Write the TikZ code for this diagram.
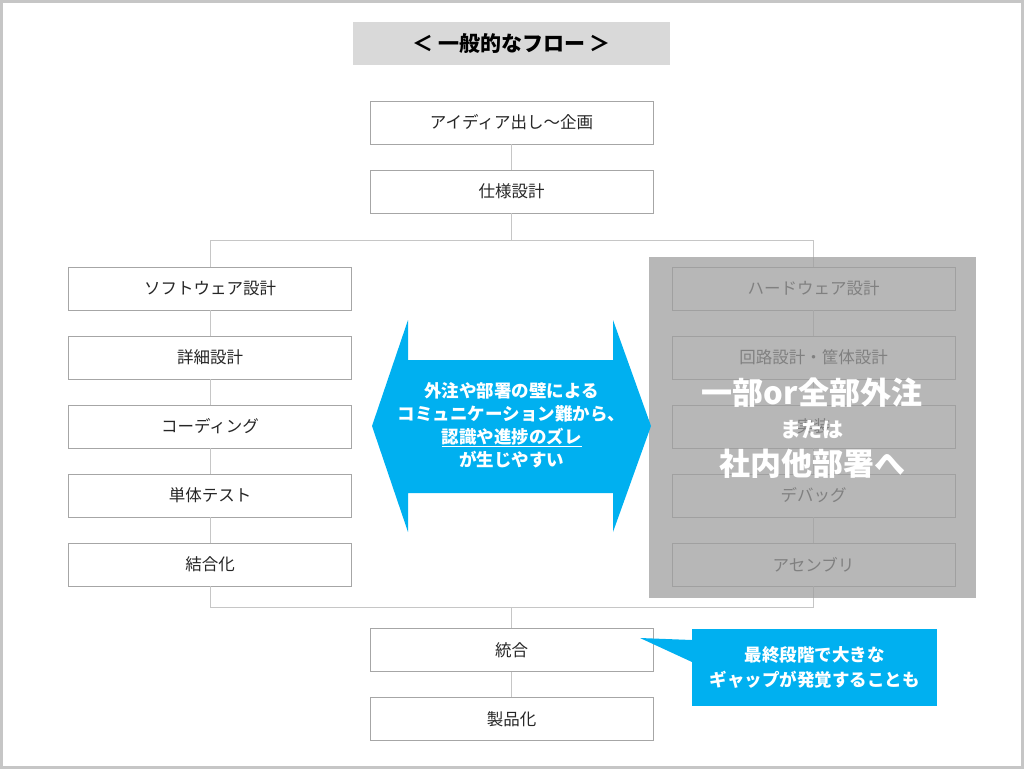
\documentclass[tikz,border=0pt]{standalone}
\usepackage{fontspec}
\setmainfont{Noto Sans CJK JP}
\usetikzlibrary{positioning}
\definecolor{flowcyan}{HTML}{00B0F0}
\tikzset{
  stepbox/.style={draw=gray!70, line width=0.8pt, fill=white, minimum width=283pt, minimum height=43pt, inner sep=0pt, font=\fontsize{16.5}{20}\selectfont, text=black!85},
  flowline/.style={draw=gray!45, line width=0.8pt},
  covertext/.style={text=white, font=\bfseries, inner sep=0pt}
}
\begin{document}
\begin{tikzpicture}[x=1pt,y=-1pt]

% Rahmen
\useasboundingbox (0,0) rectangle (1024,769);
\draw[gray!45, line width=3pt] (1.5,1.5) rectangle (1022.5,767.5);

% Titel
\node[fill=gray!30, minimum width=317pt, minimum height=43pt, font=\bfseries\fontsize{21}{24}\selectfont] (title) at (511.5,43.5) {＜ 一般的なフロー ＞};

% Mitte oben
\node[stepbox] (idea) at (511.5,122.5) {アイディア出し～企画};
\node[stepbox] (spec) at (511.5,191.5) {仕様設計};

% Software
\node[stepbox] (sw1) at (210,288.5) {ソフトウェア設計};
\node[stepbox] (sw2) at (210,357.5) {詳細設計};
\node[stepbox] (sw3) at (210,426.5) {コーディング};
\node[stepbox] (sw4) at (210,495.5) {単体テスト};
\node[stepbox] (sw5) at (210,564.5) {結合化};

% Hardware
\node[stepbox] (hw1) at (813.5,288.5) {ハードウェア設計};
\node[stepbox] (hw2) at (813.5,357.5) {回路設計・筐体設計};
\node[stepbox] (hw3) at (813.5,426.5) {実装};
\node[stepbox] (hw4) at (813.5,495.5) {デバッグ};
\node[stepbox] (hw5) at (813.5,564.5) {アセンブリ};

% Mitte unten
\node[stepbox] (integ) at (511.5,650) {統合};
\node[stepbox] (prod) at (511.5,719) {製品化};

\coordinate (split) at (511.5,240);
\coordinate (join) at (511.5,607);

% Verbindungen
\draw[flowline] (idea) -- (spec);
\draw[flowline] (spec) -- (split);
\draw[flowline] (sw1.north |- split) -- (hw1.north |- split);
\draw[flowline] (sw1.north |- split) -- (sw1);
\draw[flowline] (hw1.north |- split) -- (hw1);
\foreach \a/\b in {sw1/sw2,sw2/sw3,sw3/sw4,sw4/sw5,hw1/hw2,hw2/hw3,hw3/hw4,hw4/hw5}
  \draw[flowline] (\a) -- (\b);
\draw[flowline] (sw5) -- (sw5.south |- join) -- (hw5.south |- join) -- (hw5);
\draw[flowline] (join) -- (integ);
\draw[flowline] (integ) -- (prod);

% Abdeckung
\node[fill=gray!75, fill opacity=0.75, minimum width=327pt, minimum height=341pt, inner sep=0pt] (cover) at (812,427.5) {};
\node[covertext, font=\bfseries\fontsize{31}{36}\selectfont] (cover1) at (812,393) {一部or全部外注};
\node[covertext, font=\bfseries\fontsize{21}{24}\selectfont] (cover2) at (812,430) {または};
\node[covertext, font=\bfseries\fontsize{31}{36}\selectfont] (cover3) at (812,464) {社内他部署へ};

% Doppelpfeil
\fill[flowcyan] (372,426) -- (408,320) -- (408,360) -- (613,360) -- (613,320) -- (651,426)
  -- (613,532) -- (613,493) -- (408,493) -- (408,532) -- cycle;
\node[text=white, font=\bfseries\fontsize{17.5}{23}\selectfont, align=center] (gap) at (511.5,425)
  {外注や部署の壁による\\コミュニケーション難から、\\\underline{認識や進捗のズレ}\\が生じやすい};

% Sprechblase
\fill[flowcyan] (692,629) rectangle (937,706);
\fill[flowcyan] (692,640) -- (640,638) -- (692,662) -- cycle;
\node[text=white, font=\bfseries\fontsize{17.5}{25}\selectfont, align=center] (late) at (814.5,667.5)
  {最終段階で大きな\\ギャップが発覚することも};

\end{tikzpicture}
\end{document}
